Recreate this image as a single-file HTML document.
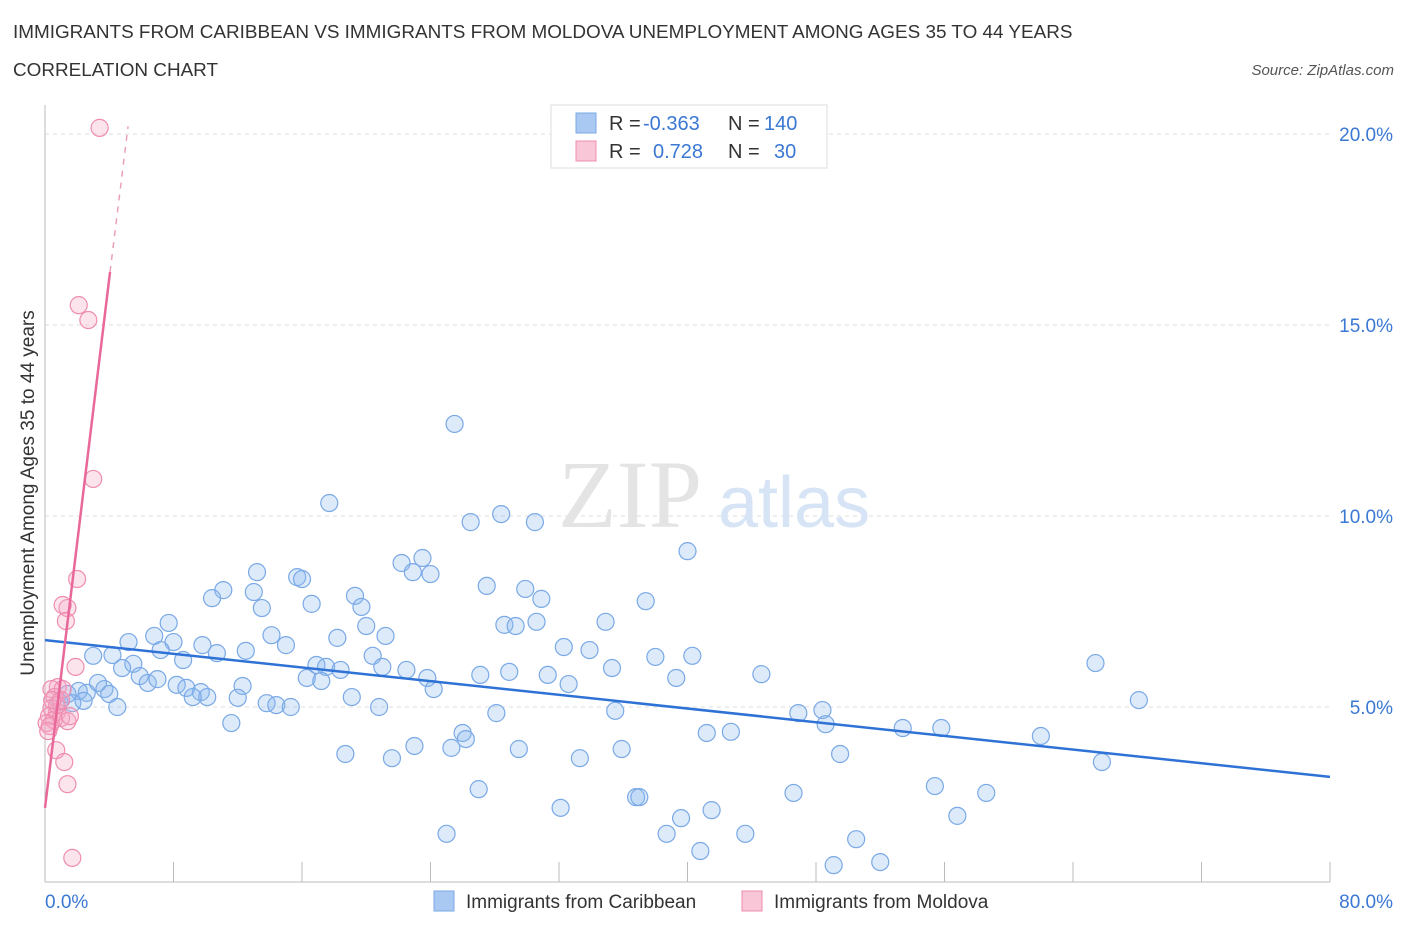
<!DOCTYPE html>
<html><head><meta charset="utf-8"><style>
body{margin:0;background:#fff;font-family:"Liberation Sans",sans-serif;}
#wrap{position:relative;width:1406px;height:930px;overflow:hidden;}
.t{position:absolute;white-space:nowrap;}
</style></head><body>
<div id="wrap">
<div class="t" style="left:13px;top:22px;font-size:18.9px;color:#333;">IMMIGRANTS FROM CARIBBEAN VS IMMIGRANTS FROM MOLDOVA UNEMPLOYMENT AMONG AGES 35 TO 44 YEARS</div>
<div class="t" style="left:13px;top:60px;font-size:18.9px;color:#333;">CORRELATION CHART</div>
<div class="t" style="right:12px;top:62px;font-size:15px;color:#555;font-style:italic;">Source: ZipAtlas.com</div>
<svg id="chart" width="1406" height="930" style="position:absolute;left:0;top:0"></svg>
</div>
<script>
const xTicks=[0,80];
const yTicks=[5,10,15,20];
const blueX=[25.5,17.7,28.4,26.5,30.5,40.0,23.5,22.2,22.9,24.0,13.2,15.7,16.0,27.5,29.9,11.1,10.4,13.0,19.3,30.9,16.6,19.7,13.5,37.4,7.7,20.0,34.9,28.6,29.3,30.6,21.2,14.1,6.8,5.2,8.0,15.0,32.3,33.9,7.2,9.8,10.7,12.5,4.2,3.0,20.4,18.2,8.6,38.0,40.3,65.4,5.5,4.8,16.9,17.5,18.4,21.0,22.5,23.8,27.1,28.9,31.3,35.3,44.6,39.3,5.9,6.4,7.0,16.3,17.2,12.3,24.2,32.6,8.2,8.8,9.7,10.1,9.2,3.3,3.7,4.0,2.6,2.1,1.4,0.9,1.7,2.4,4.5,12.0,19.1,13.8,14.4,15.3,20.8,28.1,35.5,46.9,48.4,48.6,53.4,55.8,68.1,11.6,26.0,26.2,41.2,42.7,62.0,23.0,25.3,29.5,35.9,18.7,21.6,33.3,49.5,65.8,27.0,55.4,58.6,46.6,36.8,37.0,41.5,32.1,56.8,39.6,25.0,38.7,43.6,50.5,40.8,49.1,52.0];
const blueY=[12.41,10.34,10.05,9.84,9.84,9.08,8.90,8.77,8.53,8.48,8.53,8.40,8.35,8.17,8.09,8.06,7.85,8.01,7.91,7.83,7.70,7.62,7.59,7.77,7.20,7.12,7.23,7.15,7.12,7.23,6.86,6.88,6.86,6.70,6.70,6.62,6.57,6.49,6.49,6.62,6.41,6.47,6.36,6.34,6.34,6.81,6.23,6.31,6.34,6.15,6.13,6.02,6.10,6.05,5.97,6.05,5.97,5.76,5.84,5.92,5.84,6.02,5.86,5.76,5.81,5.63,5.73,5.76,5.68,5.55,5.47,5.60,5.58,5.50,5.39,5.26,5.26,5.63,5.47,5.34,5.37,5.42,5.34,5.13,5.10,5.16,5.00,5.24,5.26,5.10,5.05,5.00,5.00,4.84,4.90,4.84,4.92,4.55,4.45,4.45,5.18,4.58,4.32,4.16,4.32,4.35,4.24,3.98,3.93,3.90,3.90,3.77,3.66,3.66,3.77,3.56,2.85,2.93,2.75,2.75,2.64,2.64,2.30,2.36,2.15,2.09,1.68,1.68,1.68,1.54,1.23,0.86,0.94];
const pinkX=[3.4,2.1,2.7,3.0,2.0,1.4,1.1,1.3,1.9,0.8,1.1,0.4,0.6,0.4,0.75,0.25,0.55,1.0,1.4,1.55,0.1,0.3,0.2,0.75,1.0,0.7,1.2,1.4,1.7,0.45];
const pinkY=[20.16,15.52,15.13,10.97,8.35,7.59,7.67,7.25,6.05,5.52,5.47,5.47,5.26,4.97,4.87,4.76,4.66,4.71,4.63,4.76,4.58,4.50,4.37,5.05,5.18,3.87,3.56,2.98,1.05,5.18];
const blueTrend=[6.75,3.17];
const pinkTrend=[2.36,16.39,20.2];
const pinkTrendX=[0,4.05,5.17];

const NS='http://www.w3.org/2000/svg';
const svg=document.getElementById('chart');
const sx=v=>45+v/80*1285;
const sy=v=>898-v*38.2;
function mk(tag,attrs,parent){const e=document.createElementNS(NS,tag);for(const k in attrs)e.setAttribute(k,attrs[k]);(parent||svg).appendChild(e);return e;}
yTicks.forEach(v=>{
 const l=mk('line',{x1:45,x2:1330,y1:sy(v),y2:sy(v),stroke:'#ddd','stroke-dasharray':'4,4'});
 
 
 const t=mk('text',{x:1393,y:sy(v)+7,'text-anchor':'end','font-size':19,fill:'#3a78d4'});
 t.textContent=v.toFixed(1)+'%';
 
 
});
const ax=mk('line',{x1:45,x2:1330,y1:882,y2:882,stroke:'#bbb'});


const ay=mk('line',{x1:45,x2:45,y1:105,y2:882,stroke:'#bbb'});


for(let i=0;i<=10;i++){
 const tk=mk('line',{x1:sx(i*8),x2:sx(i*8),y1:882,y2:862,stroke:'#bbb'});
 
 
}
xTicks.forEach((v,i)=>{
 const t=mk('text',{x:i?1393:45,y:908,'text-anchor':i?'end':'start','font-size':19,fill:'#3a78d4'});
 t.textContent=v.toFixed(1)+'%';
 
 
});
const yt=mk('text',{x:0,y:0,transform:'translate(34,493) rotate(-90)','text-anchor':'middle','font-size':19,fill:'#333'});
yt.textContent='Unemployment Among Ages 35 to 44 years';


const wm=mk('text',{x:558,y:527,'font-size':96,fill:'#e4e4e4','font-family':'Liberation Serif,serif'});
wm.textContent='ZIP';


const wm2=mk('text',{x:718,y:527,'font-size':72,fill:'#d6e4f5'});
wm2.textContent='atlas';


blueX.forEach((x,i)=>{
 const c=mk('circle',{cx:sx(x),cy:sy(blueY[i]),r:8.5,fill:'rgba(140,185,240,0.3)',stroke:'#7aa9e6','stroke-width':1.2});
 
 
});
pinkX.forEach((x,i)=>{
 const c=mk('circle',{cx:sx(x),cy:sy(pinkY[i]),r:8.5,fill:'rgba(245,165,195,0.3)',stroke:'#ef8db0','stroke-width':1.2});
 
 
});
const bt=mk('line',{x1:sx(0),y1:sy(blueTrend[0]),x2:sx(80),y2:sy(blueTrend[1]),stroke:'#2f72d6','stroke-width':2.5});


const pt=mk('line',{x1:sx(pinkTrendX[0]),y1:sy(pinkTrend[0]),x2:sx(pinkTrendX[1]),y2:sy(pinkTrend[1]),stroke:'#e8689a','stroke-width':2.5});


const pd=mk('line',{x1:sx(pinkTrendX[1]),y1:sy(pinkTrend[1]),x2:sx(pinkTrendX[2]),y2:sy(pinkTrend[2]),stroke:'#eaa0bd','stroke-width':1.5,'stroke-dasharray':'6,6'});


const lb=mk('rect',{x:551,y:105,width:276,height:63,fill:'#fff',stroke:'#ddd'});


[['#a9c8f2','#7aa9e6','-0.363','140',123],['#f9c6d7','#ef8db0','0.728',' 30',151]].forEach(r=>{
 const s=mk('rect',{x:576,y:r[4]-10,width:20,height:20,fill:r[0],stroke:r[1]});
 
 
 const t=mk('text',{x:609,y:r[4]+7,'font-size':20,fill:'#333','xml:space':'preserve'});
 t.innerHTML='R = <tspan fill="#3a78d4" x="'+(r[2][0]=='-'?643:653)+'">'+r[2]+'</tspan><tspan x="728">N = </tspan><tspan fill="#3a78d4" x="'+(r[3]==' 30'?774:764)+'">'+r[3].trim()+'</tspan>';
 
 
});
[[434,'#a9c8f2','#7aa9e6','Immigrants from Caribbean'],[742,'#f9c6d7','#ef8db0','Immigrants from Moldova']].forEach(r=>{
 const s=mk('rect',{x:r[0],y:891,width:20,height:20,fill:r[1],stroke:r[2]});
 
 
 const t=mk('text',{x:r[0]+32,y:908,'font-size':19,fill:'#333'});
 t.textContent=r[3];
 
 
});
</script>
</body></html>
